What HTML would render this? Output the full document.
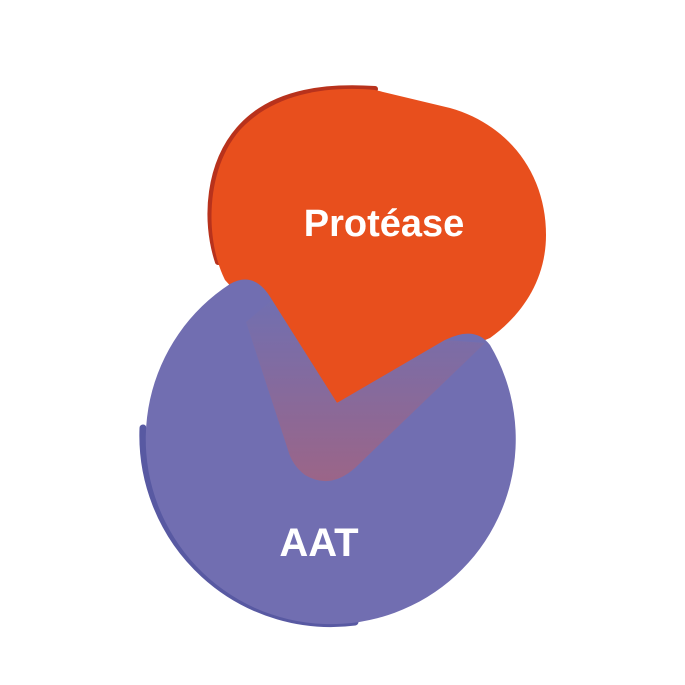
<!DOCTYPE html>
<html><head><meta charset="utf-8"><style>html,body{margin:0;padding:0;background:#fff}svg{display:block}</style></head>
<body>
<svg width="685" height="685" viewBox="0 0 685 685" xmlns="http://www.w3.org/2000/svg">
<defs>
<linearGradient id="g" x1="0" y1="0" x2="0" y2="1">
<stop offset="0" stop-color="#716fb0"/>
<stop offset="1" stop-color="#9b6588"/>
</linearGradient>
</defs>
<path d="M 218 262 C 204 220, 208 162, 242 126 C 276 90, 330 86, 375 89" fill="none" stroke="#b8321c" stroke-width="6" stroke-linecap="round"/>
<path d="M 225 280 C 205 240, 205 170, 240 130 C 275 92, 330 86, 375 90 L 450 108 C 510 125, 546 175, 546 235 C 546 280, 522 315, 490 338 L 337 403 Z" fill="#e84f1d"/>
<path d="M 143 428 A 188 188 0 0 0 355 622" fill="none" stroke="#5859a2" stroke-width="7" stroke-linecap="round"/>
<path d="M 230 284 Q 255 270 272 300 L 337 403 L 445 340 Q 475 325 490 345 A 185 185 0 1 1 230 284 Z" fill="#716eb1"/>
<path d="M 246 322 L 272 300 L 337 403 L 445 340 L 485 343 L 355 468 Q 330 490 305 475 Q 292 465 288 450 Z" fill="url(#g)"/>
<text x="384" y="236" font-family="Liberation Sans, sans-serif" font-weight="bold" font-size="38" fill="#fff" text-anchor="middle">Protéase</text>
<text x="319" y="556" font-family="Liberation Sans, sans-serif" font-weight="bold" font-size="40" fill="#fff" text-anchor="middle">AAT</text>
</svg>
</body></html>
